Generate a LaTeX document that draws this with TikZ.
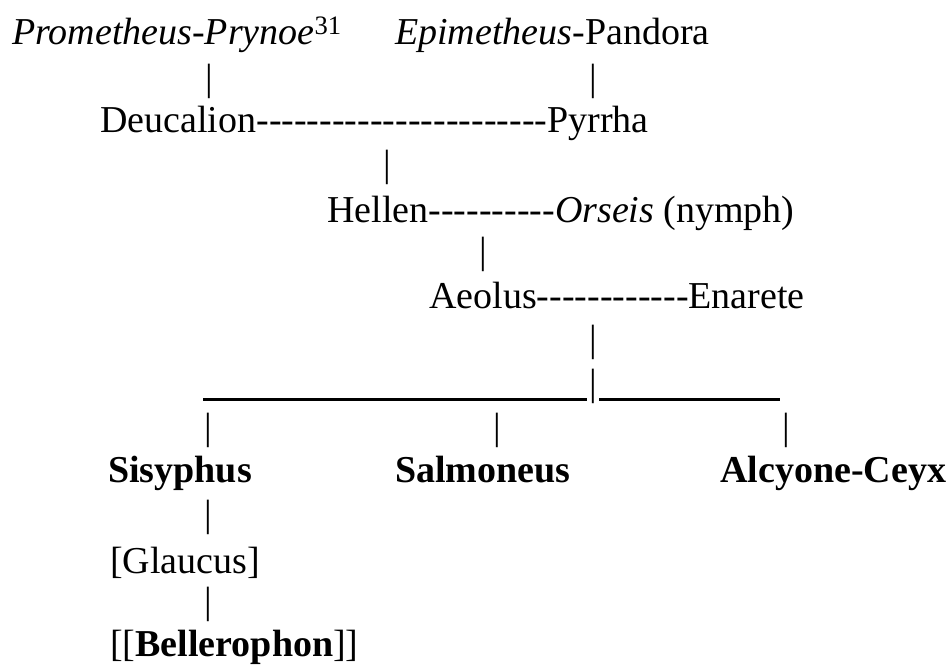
\documentclass[tikz,border=0pt]{standalone}
\usepackage{fontspec}
\setmainfont{Liberation Serif}[Ligatures=TeXOff]
\begin{document}
\begin{tikzpicture}[x=1pt, y=-1pt, font=\fontsize{38}{44}\selectfont,
	txt/.style={anchor=base west, inner sep=0pt},
	vbar/.style={anchor=base, inner sep=0pt},
	rule/.style={line width=3pt}]
	\useasboundingbox (0,0) rectangle (950,664);
	% parents
	\node[txt] (prometheus) at (12,44)  {\textit{Prometheus-Prynoe}\textsuperscript{31}};
	\node[txt] (epimetheus) at (395,44) {\textit{Epimetheus}-Pandora};
	\node[vbar] (p1) at (209,90) {|};
	\node[vbar] (p2) at (593,90) {|};
	\node[txt] (deucalion) at (100,132) {Deucalion-----------------------Pyrrha};
	\node[vbar] (p3) at (387,176) {|};
	\node[txt] (hellen)    at (327,222) {Hellen----------\textit{Orseis} (nymph)};
	\node[vbar] (p4) at (483,263) {|};
	\node[txt] (aeolus)    at (429,308) {Aeolus------------Enarete};
	\node[vbar] (p5) at (593,351) {|};
	% children of Aeolus
	\coordinate (barL1) at (203,399);
	\coordinate (barL2) at (587,399);
	\coordinate (barR1) at (599,399);
	\coordinate (barR2) at (780,399);
	\draw[rule] (barL1) -- (barL2);
	\draw[rule] (barR1) -- (barR2);
	\node[vbar] (p6) at (593,395) {|};
	\node[vbar] (p7) at (208,439) {|};
	\node[vbar] (p8) at (497,439) {|};
	\node[vbar] (p9) at (786,439) {|};
	\node[txt] (sisyphus)  at (108,482) {\textbf{Sisyphus}};
	\node[txt] (salmoneus) at (395,482) {\textbf{Salmoneus}};
	\node[txt] (alcyone)   at (720,482) {\textbf{Alcyone-Ceyx}};
	% line of Sisyphus
	\node[vbar] (p10) at (208,526) {|};
	\node[txt] (glaucus)   at (110,573) {[Glaucus]};
	\node[vbar] (p11) at (208,613) {|};
	\node[txt] (bellero)   at (110,656) {[[\textbf{Bellerophon}]]};
\end{tikzpicture}
\end{document}
